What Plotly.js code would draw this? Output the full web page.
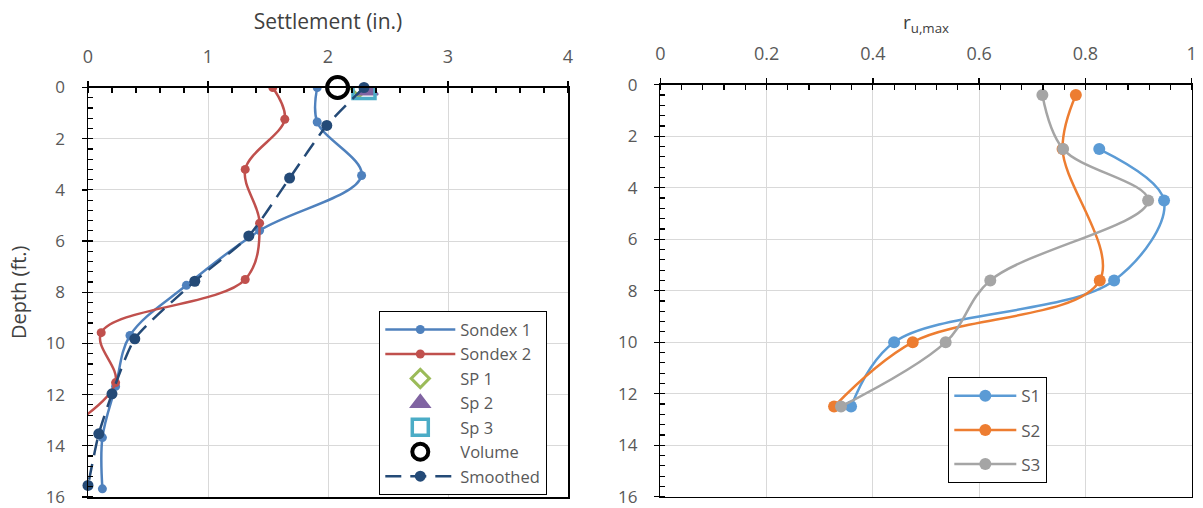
<!DOCTYPE html>
<html>
<head>
<meta charset="utf-8">
<script src="https://cdn.plot.ly/plotly-3.0.1.min.js"></script>
<style>html,body{margin:0;padding:0;background:#fff;}#chart{width:1203px;height:508px;}</style>
</head>
<body>
<div id="chart"></div>
<script>
// ---- Left chart: settlement vs depth ----
const sondex1Settle = [1.91, 1.91, 2.28, 1.43, 0.82, 0.35, 0.23, 0.12, 0.12];
const sondex1Depth  = [0, 1.35, 3.44, 5.59, 7.73, 9.69, 11.68, 13.68, 15.68];
const sondex2Settle = [1.54, 1.64, 1.31, 1.43, 1.31, 0.11, 0.23, -0.2];
const sondex2Depth  = [0, 1.24, 3.2, 5.3, 7.5, 9.58, 11.53, 13.4];
const sp1Settle = [2.26];  const sp1Depth = [0];
const sp2Settle = [2.33];  const sp2Depth = [0.1];
const sp3Settle = [2.30];  const sp3Depth = [0];
const volumeSettle = [2.08]; const volumeDepth = [0];
const smoothedSettle = [2.30, 1.99, 1.68, 1.34, 0.89, 0.39, 0.20, 0.09, 0.0];
const smoothedDepth  = [0, 1.48, 3.54, 5.8, 7.57, 9.82, 11.97, 13.53, 15.55];

// ---- Right chart: r_u,max vs depth ----
const s1Depth = [2.5, 4.5, 7.6, 10.0, 12.5];
const s1Ru    = [0.826, 0.948, 0.854, 0.440, 0.359];
const s2Depth = [0.4, 2.5, 7.6, 10.0, 12.5];
const s2Ru    = [0.782, 0.757, 0.827, 0.475, 0.327];
const s3Depth = [0.4, 2.5, 4.5, 7.6, 10.0, 12.5];
const s3Ru    = [0.719, 0.758, 0.918, 0.621, 0.537, 0.340];

const leftTicks = [0, 1, 2, 3, 4];
const rightTicks = [0, 0.2, 0.4, 0.6, 0.8, 1];
const depthTicks = [0, 2, 4, 6, 8, 10, 12, 14, 16];

const FONT = 'Open Sans, Lato, sans-serif';
const TXT = '#595959';

function lineTrace(name, x, y, color, xa, ya, leg, msize, extra) {
  return Object.assign({
    type: 'scatter', mode: 'lines+markers', name: name, x: x, y: y,
    xaxis: xa, yaxis: ya, legend: leg, legendgroup: name,
    line: {color: color, width: 2.5, shape: 'spline', smoothing: 1},
    marker: {color: color, size: msize, symbol: 'circle'}
  }, extra || {});
}

const traces = [
  lineTrace('Sondex 1', sondex1Settle, sondex1Depth, '#4F81BD', 'x', 'y', 'legend', 9),
  lineTrace('Sondex 2', sondex2Settle, sondex2Depth, '#C0504D', 'x', 'y', 'legend', 9),
  {type: 'scatter', mode: 'markers', name: 'SP 1', x: sp1Settle, y: sp1Depth, xaxis: 'x', yaxis: 'y', legend: 'legend', legendgroup: 'SP 1',
   marker: {symbol: 'diamond', size: 14, color: 'rgba(255,255,255,0)', line: {color: '#9BBB59', width: 3}}},
  {type: 'scatter', mode: 'markers', name: 'Sp 2', x: sp2Settle, y: sp2Depth, xaxis: 'x', yaxis: 'y', legend: 'legend', legendgroup: 'Sp 2',
   marker: {symbol: 'triangle-up', size: 18, color: '#8064A2', line: {color: '#8064A2', width: 2}}},
  {type: 'scatter', mode: 'markers', name: 'Sp 3', x: sp3Settle, y: sp3Depth, xaxis: 'x', yaxis: 'y', legend: 'legend', legendgroup: 'Sp 3',
   marker: {symbol: 'square', size: 22, color: 'rgba(255,255,255,0)', line: {color: '#4BACC6', width: 3.5}}},
  {type: 'scatter', mode: 'markers', name: 'Volume', x: volumeSettle, y: volumeDepth, xaxis: 'x', yaxis: 'y', legend: 'legend', legendgroup: 'Volume',
   marker: {symbol: 'circle', size: 21, color: 'rgba(255,255,255,0)', line: {color: '#000000', width: 4}}, cliponaxis: false},
  lineTrace('Smoothed', smoothedSettle, smoothedDepth, '#244A77', 'x', 'y', 'legend', 11,
    {cliponaxis: false, line: {color: '#244A77', width: 2.5, dash: '16px,9px', shape: 'spline', smoothing: 0.6}}),
  lineTrace('S1', s1Ru, s1Depth, '#5B9BD5', 'x2', 'y2', 'legend2', 12),
  lineTrace('S2', s2Ru, s2Depth, '#ED7D31', 'x2', 'y2', 'legend2', 12),
  lineTrace('S3', s3Ru, s3Depth, '#A5A5A5', 'x2', 'y2', 'legend2', 12)
];

function xAxis(range, ticks, minorStep, domain, title, titleSize, standoff) {
  return {
    domain: domain, range: range, side: 'top', tickvals: ticks, ticktext: ticks.map(String),
    showgrid: true, gridcolor: '#D9D9D9', gridwidth: 1, zeroline: false,
    showline: true, linecolor: '#000', linewidth: 1.5, mirror: true,
    ticks: 'outside', ticklen: 5, tickcolor: '#000', tickwidth: 1.3,
    minor: {dtick: minorStep, ticks: 'inside', ticklen: 5, tickcolor: '#000', tickwidth: 1.2, showgrid: false},
    tickfont: {family: FONT, size: 18, color: TXT}, ticklabelstandoff: 11,
    automargin: false, fixedrange: true,
    title: {text: title, font: {family: FONT, size: titleSize, color: '#404040'}, standoff: standoff}
  };
}
function yAxis(domain, anchor, title) {
  const ax = {
    domain: domain, range: [16, 0], anchor: anchor, tickvals: depthTicks, ticktext: depthTicks.map(String),
    showgrid: true, gridcolor: '#D9D9D9', gridwidth: 1, zeroline: false,
    showline: true, linecolor: '#000', linewidth: 1.5, mirror: true,
    ticks: 'outside', ticklen: 5, tickcolor: '#000', tickwidth: 1.3,
    minor: {dtick: 0.4, ticks: 'inside', ticklen: 5, tickcolor: '#000', tickwidth: 1.2, showgrid: false},
    tickfont: {family: FONT, size: 17, color: TXT}, ticklabelstandoff: 13,
    automargin: false, fixedrange: true
  };
  if (title) ax.title = {text: title, font: {family: FONT, size: 20, color: '#404040'}, standoff: 13};
  return ax;
}

const layout = {
  width: 1203, height: 508, autosize: false,
  margin: {l: 0, r: 0, t: 0, b: 0},
  paper_bgcolor: '#fff', plot_bgcolor: '#fff',
  font: {family: FONT, color: TXT},
  xaxis: Object.assign(xAxis([0, 4], leftTicks, 0.2, [88 / 1203, 568 / 1203], 'Settlement (in.)', 21, 8), {anchor: 'y'}),
  yaxis: yAxis([1 - 497 / 508, 1 - 87.5 / 508], 'x', 'Depth (ft.)'),
  xaxis2: Object.assign(xAxis([0, 1], rightTicks, 0.04, [660.3 / 1203, 1191.7 / 1203], 'r<sub>u,max</sub>', 19, 6), {anchor: 'y2'}),
  yaxis2: yAxis([1 - 496.7 / 508, 1 - 84.7 / 508], 'x2', ''),
  showlegend: true,
  legend: {x: 379 / 1203, y: 1 - 311 / 508, xanchor: 'left', yanchor: 'top',
    bgcolor: '#fff', bordercolor: '#000', borderwidth: 1.3,
    font: {family: FONT, size: 16.5, color: TXT}, tracegroupgap: 0, itemwidth: 70},
  legend2: {x: 948 / 1203, y: 1 - 377 / 508, xanchor: 'left', yanchor: 'top',
    bgcolor: '#fff', bordercolor: '#000', borderwidth: 1.3,
    font: {family: FONT, size: 17, color: TXT}, tracegroupgap: 9, itemwidth: 62}
};

Plotly.newPlot('chart', traces, layout, {displayModeBar: false, staticPlot: true});
</script>
</body>
</html>
